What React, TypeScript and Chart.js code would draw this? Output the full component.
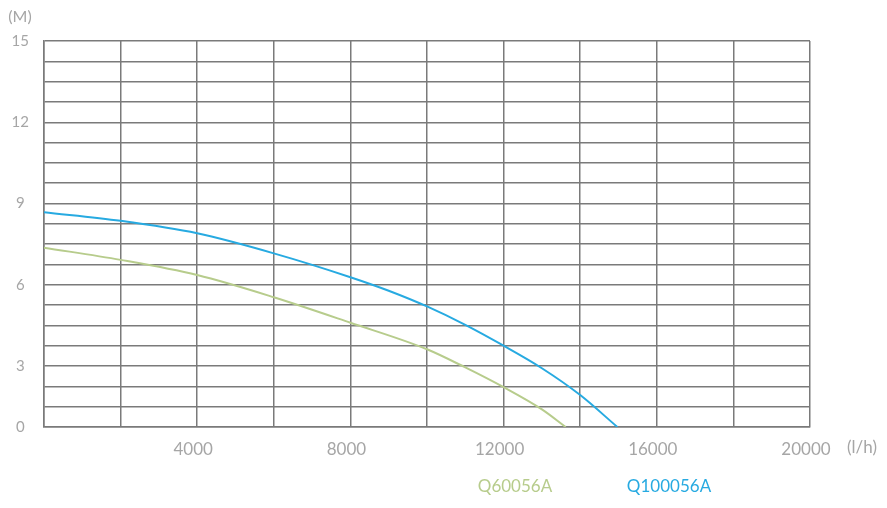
import React, { useEffect, useRef } from "react";
import { Chart, registerables } from "chart.js";

Chart.register(...registerables);

// Series: Q60056A
const q60Flow = [0, 2000, 4000, 6000, 8000, 10000, 11000, 12000, 13000, 13620];
const q60Head = [7.37, 6.92, 6.36, 5.54, 4.6, 3.62, 2.95, 2.22, 1.4, 0.75];
// Series: Q100056A
const q100Flow = [0, 2000, 4000, 6000, 8000, 9000, 10000, 11000, 12000, 13000, 14000, 14970];
const q100Head = [8.68, 8.36, 7.9, 7.16, 6.28, 5.78, 5.2, 4.52, 3.75, 2.92, 1.93, 0.75];

const seriesNames = ["Q60056A", "Q100056A"];
const seriesColors = ["#b7cc8c", "#27aae1"];

// Axes
const xMin = 0;
const xMax = 20000;
const xStep = 2000;
const xLabelEvery = 4000;
const yMin = 0.75;
const yMax = 15;
const yStep = 0.75;
const yLabelEvery = 3;
const yUnit = "(M)";
const xUnit = "(l/h)";

const FONT = "Lato, 'DejaVu Sans', sans-serif";
const TICK_COLOR = "#a6a6a6";
const GRID_COLOR = "#7a7a7a";

const toPoints = (xs: number[], ys: number[]) => xs.map((x, i) => ({ x, y: ys[i] }));

const extrasPlugin = {
  id: "extras",
  afterDraw(chart: any) {
    const ctx = chart.ctx;
    const area = chart.chartArea;
    ctx.save();
    ctx.textAlign = "center";
    ctx.textBaseline = "middle";
    ctx.fillStyle = TICK_COLOR;
    ctx.font = `16px ${FONT}`;
    ctx.fillText(yUnit, area.left - 24, area.top - 24);
    ctx.font = `17px ${FONT}`;
    ctx.fillText(xUnit, area.right + 52, area.bottom + 21);
    // legend (text only, coloured)
    ctx.font = `17px ${FONT}`;
    const legendCenters = [area.left + 471, area.left + 625];
    chart.data.datasets.forEach((ds: any, i: number) => {
      ctx.fillStyle = ds.borderColor;
      ctx.fillText(ds.label, legendCenters[i], area.bottom + 60);
    });
    ctx.restore();
  },
};

export default function App() {
  const ref = useRef<HTMLCanvasElement | null>(null);
  useEffect(() => {
    if (!ref.current) return;
    const chart = new Chart(ref.current, {
      type: "line",
      data: {
        datasets: [
          {
            label: seriesNames[0],
            data: toPoints(q60Flow, q60Head),
            borderColor: seriesColors[0],
            borderWidth: 2,
            pointRadius: 0,
            cubicInterpolationMode: "monotone",
            fill: false,
          },
          {
            label: seriesNames[1],
            data: toPoints(q100Flow, q100Head),
            borderColor: seriesColors[1],
            borderWidth: 2,
            pointRadius: 0,
            cubicInterpolationMode: "monotone",
            fill: false,
          },
        ],
      },
      options: {
        animation: false,
        responsive: true,
        maintainAspectRatio: false,
        layout: { padding: { top: 33, right: 69, left: 0, bottom: 0 } },
        plugins: { legend: { display: false }, tooltip: { enabled: false } },
        scales: {
          x: {
            type: "linear",
            min: xMin,
            max: xMax,
            border: { color: GRID_COLOR, width: 1.5 },
            grid: { color: GRID_COLOR, lineWidth: 1.5, drawTicks: false },
            ticks: {
              stepSize: xStep,
              autoSkip: false,
              maxRotation: 0,
              color: TICK_COLOR,
              font: { family: FONT, size: 17 },
              padding: 12,
              labelOffset: -4,
              callback: (v: any) => (Number(v) !== 0 && Number(v) % xLabelEvery === 0 ? String(v) : ""),
            },
            afterFit: (s: any) => {
              s.height = 73;
            },
          },
          y: {
            type: "linear",
            min: yMin,
            max: yMax,
            border: { color: GRID_COLOR, width: 1.5 },
            grid: { color: GRID_COLOR, lineWidth: 1.5, drawTicks: false },
            ticks: {
              stepSize: yStep,
              autoSkip: false,
              color: TICK_COLOR,
              font: { family: FONT, size: 15 },
              padding: 15,
              crossAlign: "center",
              callback: (v: any) => {
                const n = Number(v);
                if (Math.abs(n - yMin) < 1e-6) return "0";
                return Math.abs(n / yLabelEvery - Math.round(n / yLabelEvery)) < 1e-6 ? String(Math.round(n)) : "";
              },
            },
            afterFit: (s: any) => {
              s.width = 36;
            },
          },
        },
      },
      plugins: [extrasPlugin],
    } as any);
    return () => chart.destroy();
  }, []);
  return (
    <div style={{ width: 871, height: 492, position: "relative" }}>
      <canvas ref={ref} />
    </div>
  );
}
